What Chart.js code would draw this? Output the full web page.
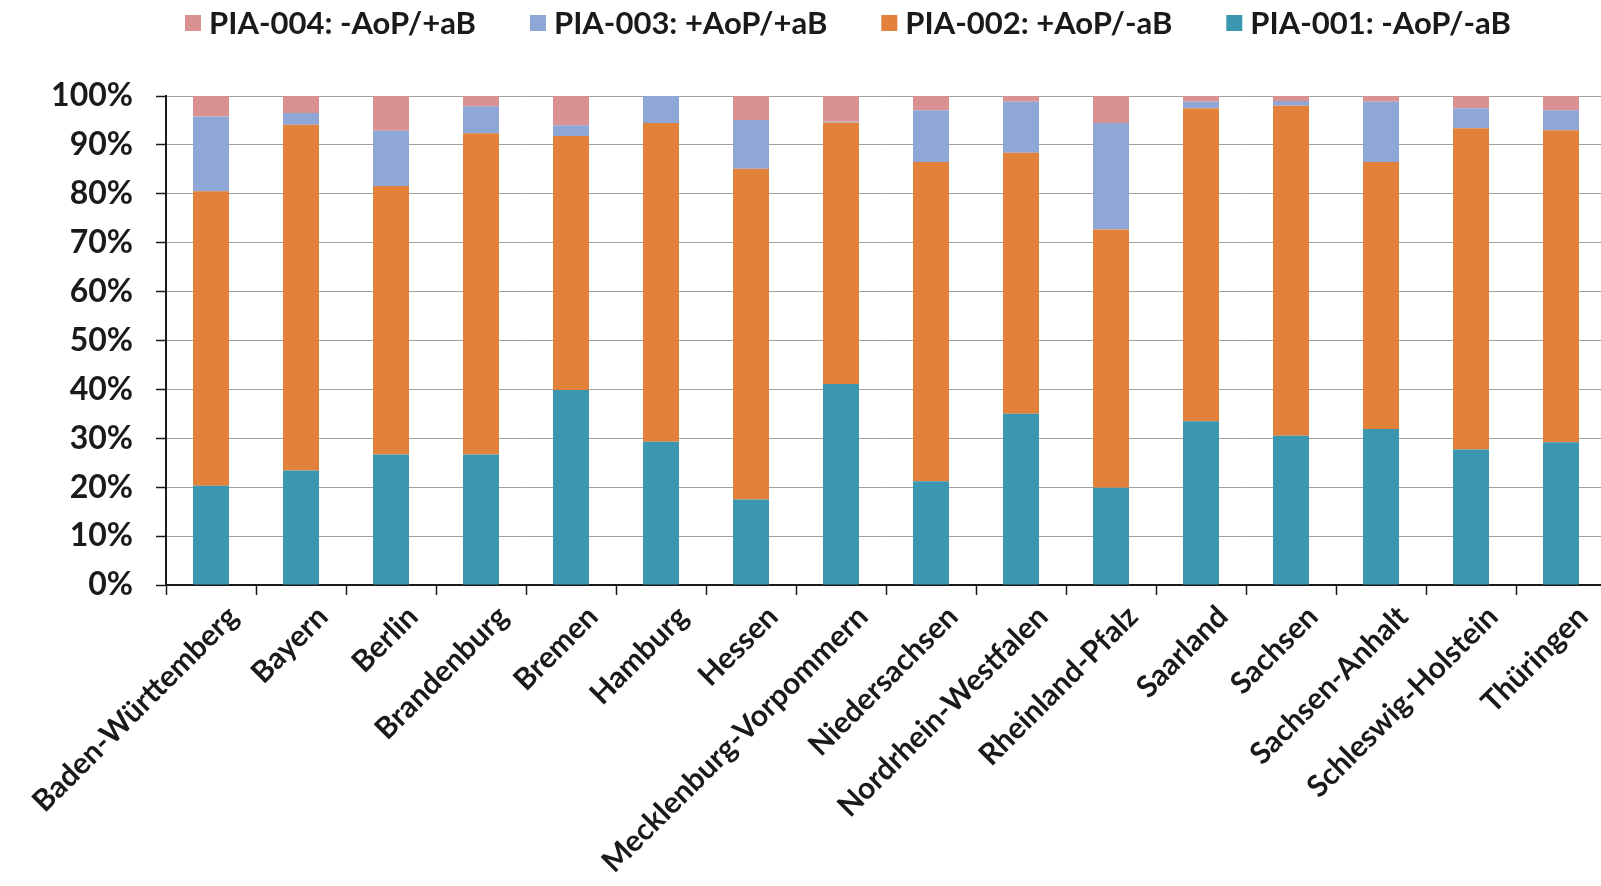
<!DOCTYPE html>
<html>
<head>
<meta charset="utf-8">
<script src="https://cdn.jsdelivr.net/npm/chart.js@4/dist/chart.umd.min.js"></script>
<style>
  html, body { margin: 0; padding: 0; background: #fff; overflow: hidden; }
  #wrap { width: 1601px; height: 886px; overflow: hidden; position: relative; }
  canvas { display: block; }
</style>
</head>
<body>
<div id="wrap"><canvas id="chart" width="1606" height="886"></canvas></div>
<script>
// Bundesländer on the category axis
const states = [
  'Baden-Württemberg', 'Bayern', 'Berlin', 'Brandenburg', 'Bremen', 'Hamburg',
  'Hessen', 'Mecklenburg-Vorpommern', 'Niedersachsen', 'Nordrhein-Westfalen',
  'Rheinland-Pfalz', 'Saarland', 'Sachsen', 'Sachsen-Anhalt',
  'Schleswig-Holstein', 'Thüringen'
];

// Share of each PIA group per state, in percent (each column sums to 100)
const pia001 = [20.3, 23.4, 26.7, 26.7, 39.9, 29.3, 17.5, 41.1, 21.2, 35.0, 19.9, 33.5, 30.5, 31.9, 27.7, 29.2];
const pia002 = [60.2, 70.7, 54.9, 65.7, 51.9, 65.2, 67.6, 53.5, 65.3, 53.4, 52.8, 64.0, 67.5, 54.6, 65.7, 63.8];
const pia003 = [15.3,  2.4, 11.3,  5.5,  2.2,  5.5, 10.0,  0.2, 10.6, 10.4, 21.8,  1.3,  1.0, 12.3,  4.1,  4.1];
const pia004 = [ 4.2,  3.5,  7.1,  2.1,  6.0,  0.0,  4.9,  5.2,  2.9,  1.2,  5.5,  1.2,  1.0,  1.2,  2.5,  2.9];

const seriesLabels = ['PIA-001: -AoP/-aB', 'PIA-002: +AoP/-aB', 'PIA-003: +AoP/+aB', 'PIA-004: -AoP/+aB'];
const seriesColors = ['#3b96af', '#e2813a', '#8fa7d7', '#d99191'];

// y-axis ticks (percent)
const yMin = 0, yMax = 100, yStep = 10;

const FONT = 'Lato, "Open Sans", "DejaVu Sans", sans-serif';
const TEXT = '#1a1a1a';

// Horizontal legend across the top, listed in reverse stacking order
const topLegend = {
  id: 'topLegend',
  afterDraw(chart) {
    const ctx = chart.ctx;
    ctx.save();
    ctx.font = 'bold 31px ' + FONT;
    ctx.textBaseline = 'middle';
    ctx.textAlign = 'left';
    let x = 185;
    const y = 23;
    chart.data.datasets.slice().reverse().forEach(ds => {
      ctx.fillStyle = ds.backgroundColor;
      ctx.fillRect(x, y - 8, 16, 16);
      ctx.fillStyle = TEXT;
      ctx.fillText(ds.label, x + 24, y + 1);
      x += 24 + ctx.measureText(ds.label).width + 54;
    });
    ctx.restore();
  }
};

const seriesData = [pia001, pia002, pia003, pia004];

new Chart(document.getElementById('chart'), {
  type: 'bar',
  data: {
    labels: states,
    datasets: seriesData.map((values, i) => ({
      label: seriesLabels[i],
      data: values,
      backgroundColor: seriesColors[i],
      borderWidth: 0,
      categoryPercentage: 1.0,
      barPercentage: 0.4
    }))
  },
  options: {
    responsive: false,
    animation: false,
    events: [],
    devicePixelRatio: 1,
    layout: { padding: { top: 96, left: 0, right: 0, bottom: 0 } },
    plugins: {
      legend: { display: false },
      tooltip: { enabled: false }
    },
    scales: {
      x: {
        stacked: true,
        offset: true,
        grid: {
          offset: true,
          drawOnChartArea: false,
          drawTicks: true,
          tickLength: 10,
          tickColor: TEXT,
          tickWidth: 1.5
        },
        border: { color: TEXT, width: 2 },
        ticks: {
          autoSkip: false,
          minRotation: 45,
          maxRotation: 45,
          padding: 4,
          labelOffset: 22,
          color: TEXT,
          font: { family: FONT, size: 30, weight: 'bold' }
        },
        afterFit(scale) {
          scale.height = 301;
          scale.paddingLeft = 0;
          scale.paddingRight = 0;
        }
      },
      y: {
        stacked: true,
        min: yMin,
        max: yMax,
        grid: {
          color: '#a0a0a0',
          lineWidth: 1,
          drawTicks: true,
          tickLength: 10,
          tickColor: TEXT,
          tickWidth: 1.5
        },
        border: { color: TEXT, width: 2 },
        ticks: {
          stepSize: yStep,
          padding: 23,
          color: TEXT,
          font: { family: FONT, size: 32, weight: 'bold' },
          callback: v => v + '%'
        },
        afterFit(scale) {
          scale.width = 166;
        }
      }
    }
  },
  plugins: [topLegend]
});
</script>
</body>
</html>
